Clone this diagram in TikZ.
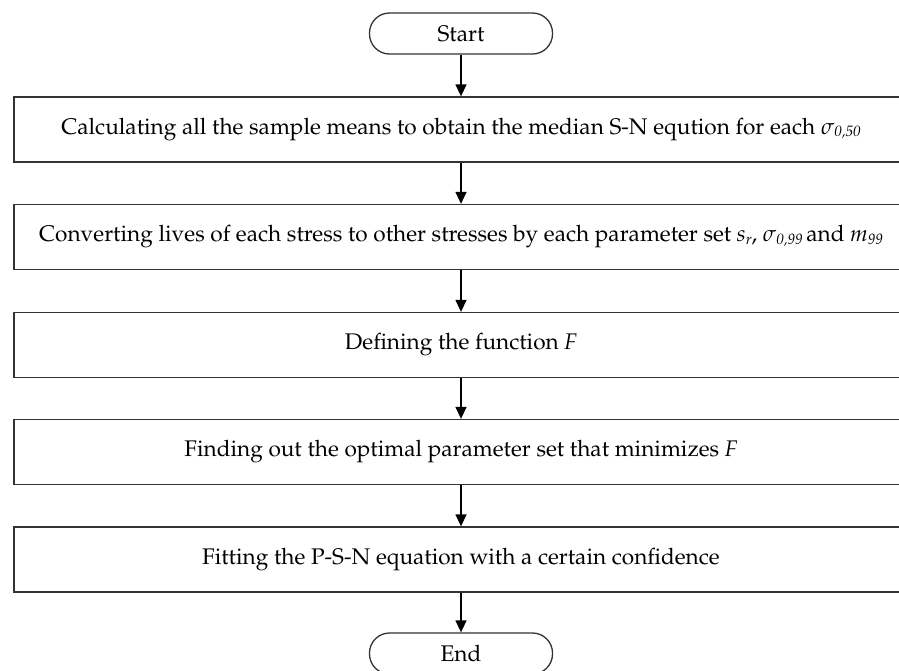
\documentclass[tikz,border=0pt]{standalone}
\usepackage[T1]{fontenc}
\usepackage{mathpazo}
\usetikzlibrary{arrows.meta}
\definecolor{edge}{HTML}{333333}
\newcommand{\subit}[1]{\raisebox{-0.2ex}{\fontsize{15}{15}\selectfont\itshape #1}}
\begin{document}
\begin{tikzpicture}[x=1pt,y=-1pt,
  every node/.style={font=\fontsize{22.6}{26}\selectfont},
  procbox/.style={draw=edge,line width=1.3pt,minimum width=894pt,minimum height=65pt,inner sep=0pt,anchor=center},
  termbox/.style={draw=edge,line width=1.3pt,rounded corners=20pt,minimum width=183pt,minimum height=41pt,inner sep=0pt,anchor=center},
  flow/.style={line width=1.4pt,-{Triangle[length=12pt,width=11pt]}}]
\useasboundingbox (0,0) rectangle (899,670);
\clip (0,0) rectangle (899,670);
\node[termbox] (start) at (461,33.5) {Start};
\node[procbox] (b1) at (461,129.5) {Calculating all the sample means to obtain the median S-N eqution for each \textit{$\sigma$}\subit{0,50}};
\node[procbox] (b2) at (461,237) {Converting lives of each stress to other stresses by each parameter set \textit{s}\subit{r}, $\sigma$\subit{0,99}\,and \textit{m}\subit{99}};
\node[procbox] (b3) at (461,345) {Defining the function \textit{F}};
\node[procbox] (b4) at (461,452) {Finding out the optimal parameter set that minimizes \textit{F}};
\node[procbox] (b5) at (461,559.5) {Fitting the P-S-N equation with a certain confidence};
\node[termbox] (end) at (461,653.5) {End};
\draw[flow] (start) -- (b1);
\draw[flow] (b1) -- (b2);
\draw[flow] (b2) -- (b3);
\draw[flow] (b3) -- (b4);
\draw[flow] (b4) -- (b5);
\draw[flow] (b5) -- (end);
\end{tikzpicture}
\end{document}
